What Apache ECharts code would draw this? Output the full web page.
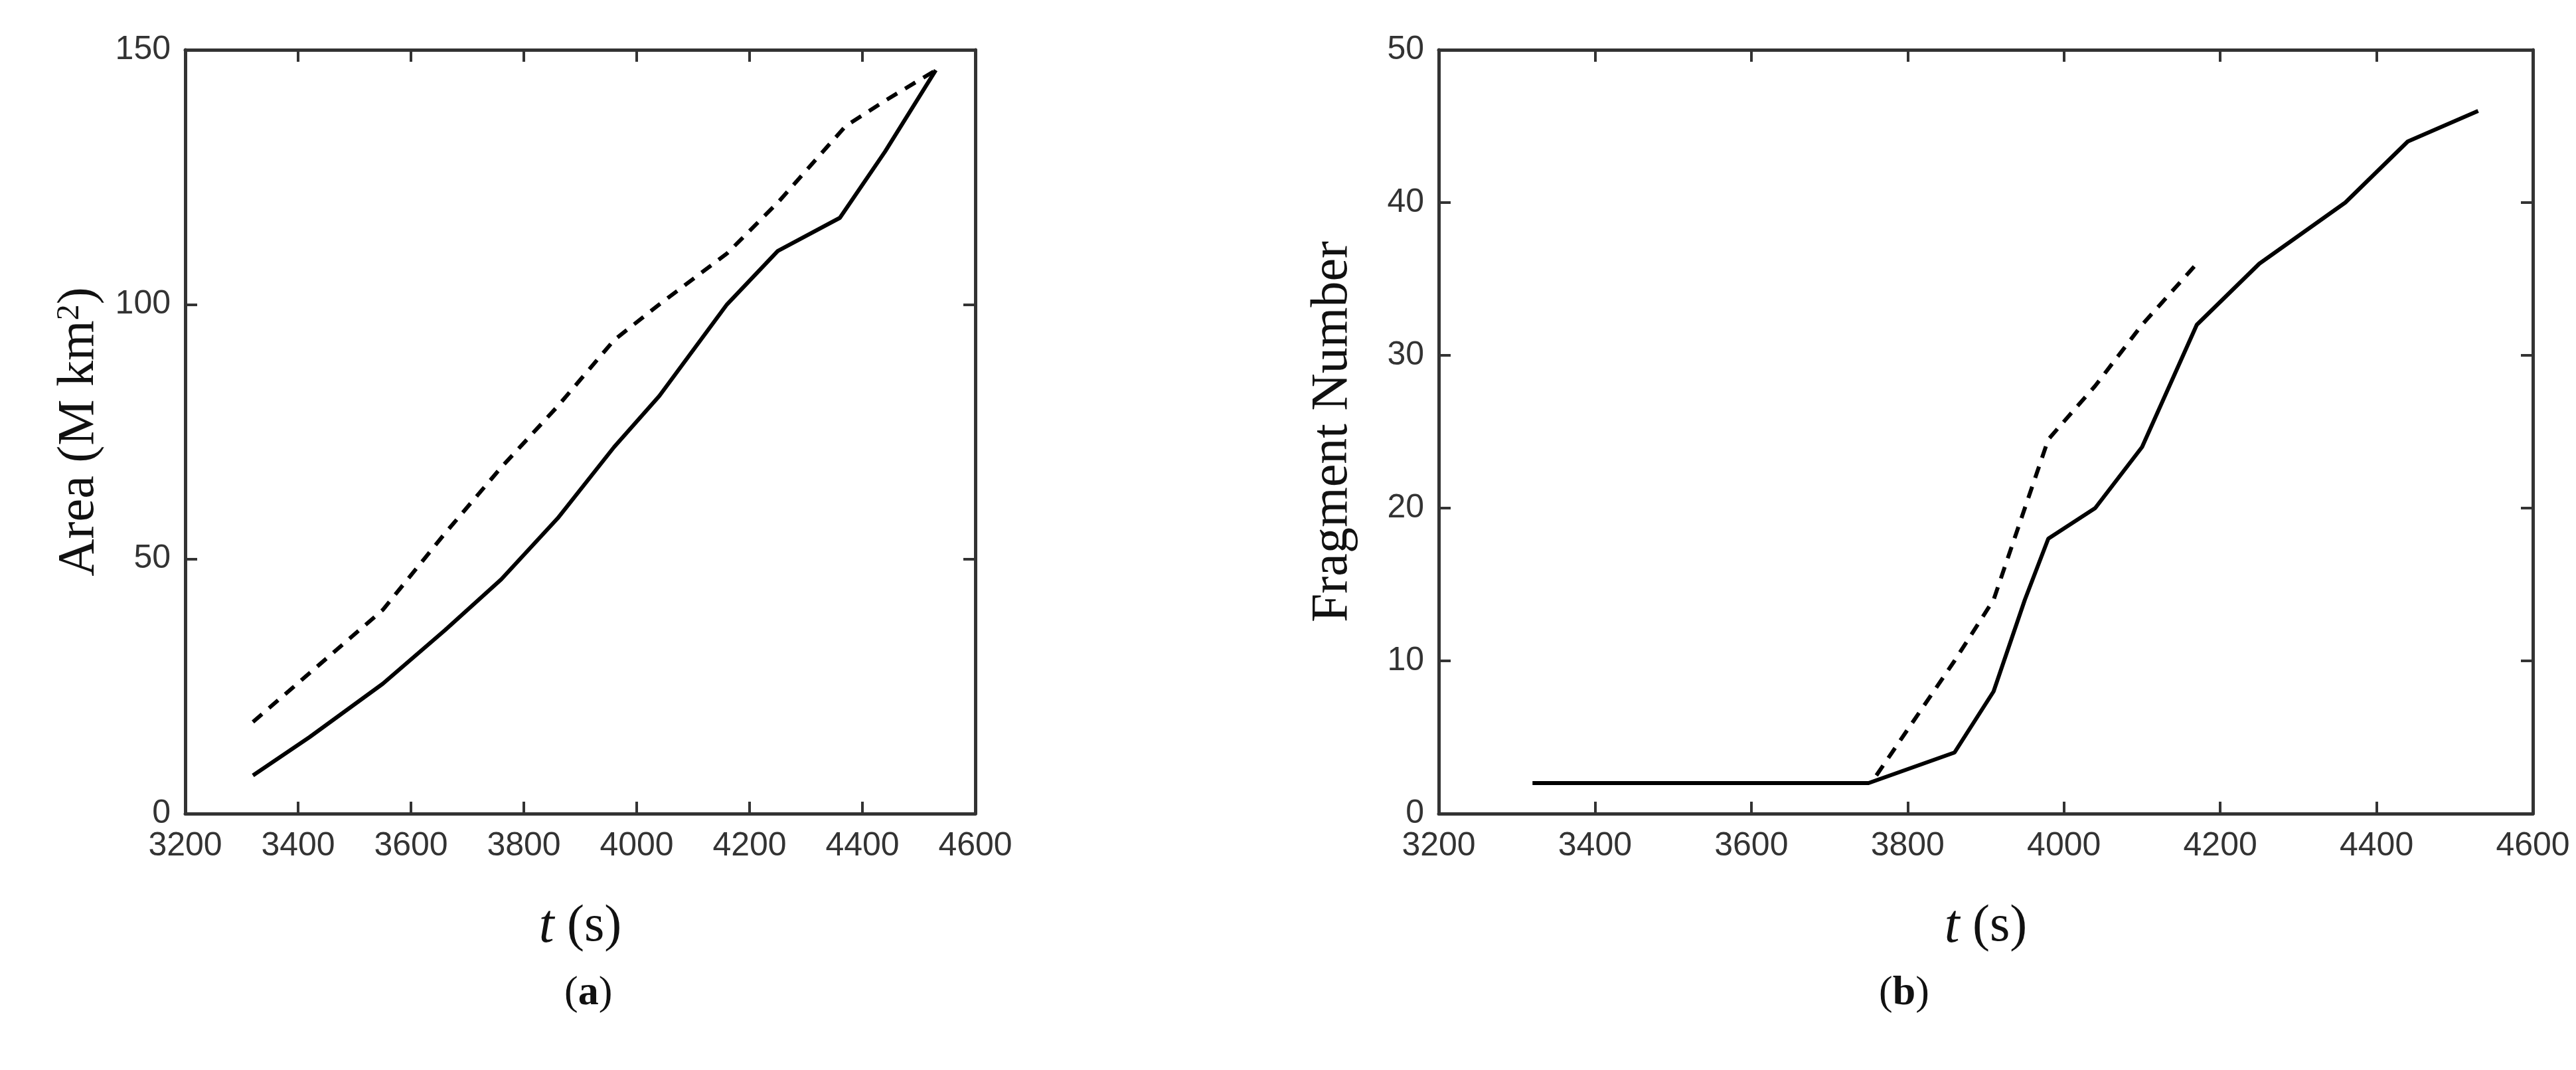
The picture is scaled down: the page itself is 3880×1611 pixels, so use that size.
<!DOCTYPE html>
<html>
<head>
<meta charset="UTF-8">
<title></title>
<script src="https://cdn.jsdelivr.net/npm/echarts@6/dist/echarts.min.js"></script>
<style>html,body{margin:0;background:#fff;}</style>
</head>
<body>
<div id="container" style="width:3880px;height:1611px;"></div>
<script type="text/javascript">
// values, [t, value]
var areaSolid = [[3320,7.5],[3420,15],[3550,25.5],[3660,36],[3760,46],[3860,58],[3960,72],[4040,82],[4160,100],[4250,110.5],[4360,117],[4440,130],[4530,146]];
var areaDashed = [[3320,18],[3550,40],[3660,55],[3760,68],[3860,80],[3960,93],[4040,100],[4160,110],[4250,120],[4370,135],[4440,140],[4530,146]];
var fragSolid = [[3320,2],[3750,2],[3860,4],[3910,8],[3950,14],[3980,18],[4040,20],[4100,24],[4170,32],[4250,36],[4360,40],[4440,44],[4530,46]];
var fragDashed = [[3760,2.5],[3860,10],[3910,14],[3950,20],[3980,24.5],[4040,28],[4100,32],[4170,36]];

var tickStyle = {fontFamily:'Liberation Sans', fontSize:50, color:'#333', formatter:function(v){ return String(v); }};
var titleRich = {
    i:{fontFamily:'Liberation Serif', fontStyle:'italic', fontSize:82, color:'#111'},
    sup:{fontFamily:'Liberation Serif', fontSize:48, color:'#111', verticalAlign:'top', padding:[0,0,30,0]}
};
var nameStyle = {fontFamily:'Liberation Serif', fontSize:78, color:'#111', rich:titleRich};

function xAx(g, top){
    return {type:'value', gridIndex:g, position: top ? 'top' : 'bottom', min:3200, max:4600, interval:200,
        name: top ? '' : '{i|t} (s)', nameLocation:'middle', nameGap:130, nameTextStyle:nameStyle,
        axisLine:{show:true, onZero:false, lineStyle:{color:'#333', width:5}},
        axisTick:{show:true, inside:true, length:18, lineStyle:{color:'#333', width:4}},
        axisLabel:{show:!top, margin:24, ...tickStyle}, splitLine:{show:false}};
}
function yAx(g, right, max, iv, name){
    return {type:'value', gridIndex:g, position: right ? 'right' : 'left', min:0, max:max, interval:iv,
        name: right ? '' : name, nameLocation:'middle', nameGap:120, nameTextStyle:nameStyle,
        axisLine:{show:true, onZero:false, lineStyle:{color:'#333', width:5}},
        axisTick:{show:true, inside:true, length:18, lineStyle:{color:'#333', width:4}},
        axisLabel:{show:!right, margin:22, ...tickStyle}, splitLine:{show:false}};
}
function line(data, g, dashed){
    return {type:'line', xAxisIndex:g*2, yAxisIndex:g*2, data:data, showSymbol:false, animation:false,
        lineStyle:{color:'#000', width:6, type: dashed ? [18,14] : 'solid'}};
}

var mychart = echarts.init(document.getElementById('container'));
mychart.setOption({
    backgroundColor:'#fff',
    grid:[{left:279, width:1190, top:75, height:1150},{left:2167, width:1648, top:75, height:1150}],
    xAxis:[xAx(0,false), xAx(0,true), xAx(1,false), xAx(1,true)],
    yAxis:[yAx(0,false,150,50,'Area (M km{sup|2})'), yAx(0,true,150,50,''),
           yAx(1,false,50,10,'Fragment Number'), yAx(1,true,50,10,'')],
    series:[line(areaSolid,0,false), line(areaDashed,0,true), line(fragSolid,1,false), line(fragDashed,1,true)],
    graphic:[
        {type:'text', left:850, top:1465, style:{text:'({b|a})', font:'62px "Liberation Serif"', fill:'#111',
            rich:{b:{fontWeight:'bold', fontSize:62, fontFamily:'Liberation Serif'}}}},
        {type:'text', left:2830, top:1465, style:{text:'({b|b})', font:'62px "Liberation Serif"', fill:'#111',
            rich:{b:{fontWeight:'bold', fontSize:62, fontFamily:'Liberation Serif'}}}}
    ]
});
</script>
</body>
</html>
